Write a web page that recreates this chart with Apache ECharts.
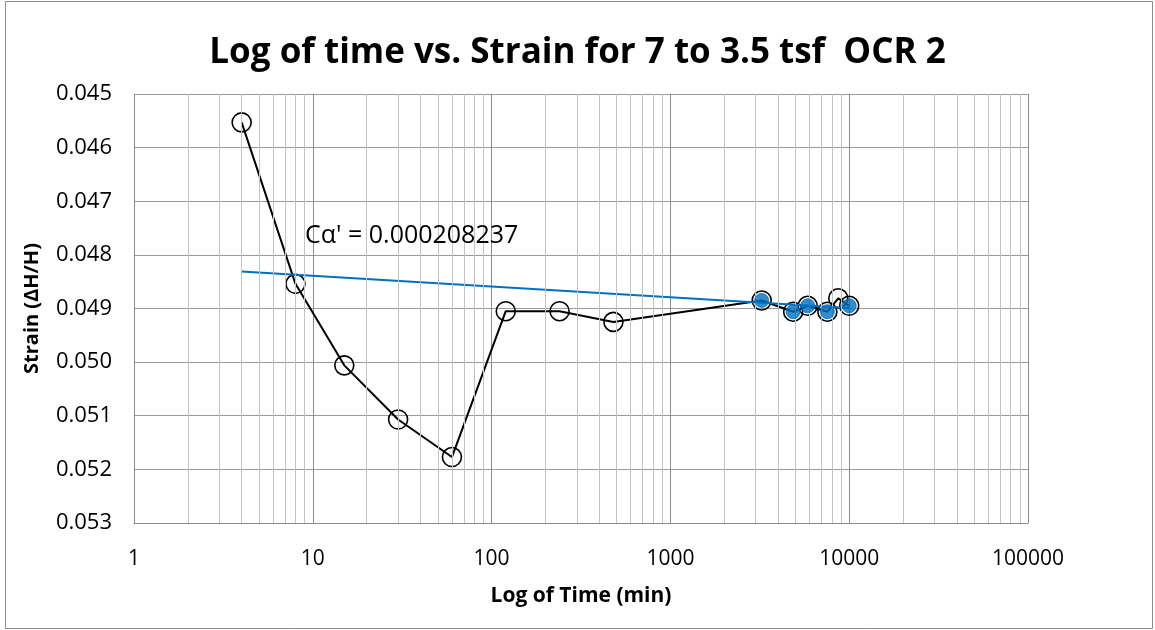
<!DOCTYPE html>
<html>
<head>
<meta charset="utf-8">
<script src="https://cdn.jsdelivr.net/npm/echarts@6/dist/echarts.min.js"></script>
<style>
html,body{margin:0;padding:0;background:#fff;}
#chart{width:1155px;height:630px;}
</style>
</head>
<body>
<div id="chart"></div>
<script>
// ---- data ----
const timeMin = [4, 8, 15, 30, 60, 120, 240, 480, 3240, 4860, 5860, 7550, 8690, 10000];
const strain  = [0.04553, 0.04854, 0.05006, 0.05107, 0.05177, 0.04905, 0.04905, 0.04925,
                 0.04885, 0.04906, 0.04895, 0.04906, 0.04881, 0.04895];
const fitTime   = [3240, 4860, 5860, 7550, 10000];
const fitStrain = [0.04885, 0.04906, 0.04895, 0.04906, 0.04895];
const trendTime   = [4, 10000];
const trendStrain = [0.04831, 0.04899];
const xTickLabels = ['1', '10', '100', '1000', '10000', '100000'];
const yTickLabels = ['0.045','0.046','0.047','0.048','0.049','0.050','0.051','0.052','0.053'];
const titleText = 'Log of time vs. Strain for 7 to 3.5 tsf  OCR 2';
const annotation = "C\u03b1' = 0.000208237";

// minor gridline positions for the log axis (2..9 in each decade)
const minorX = [];
for (let d = 1; d < 100000; d *= 10) {
  for (let k = 2; k <= 9; k++) minorX.push(k * d);
}

const pair = (xs, ys) => xs.map((x, i) => [x, ys[i]]);
const FONT = '"Open Sans", "Noto Sans", sans-serif';

const chart = echarts.init(document.getElementById('chart'), null, {renderer: 'canvas'});
chart.setOption({
  animation: false,
  backgroundColor: '#ffffff',
  title: {
    text: titleText,
    left: 'center',
    top: 31,
    textStyle: {fontFamily: FONT, fontWeight: 'bold', fontSize: 35, color: '#000'}
  },
  grid: {left: 134, right: 127, top: 94, bottom: 107, containLabel: false},
  xAxis: {
    type: 'log', logBase: 10, min: 1, max: 100000,
    name: 'Log of Time (min)', nameLocation: 'middle', nameGap: 63,
    nameTextStyle: {fontFamily: FONT, fontWeight: 'bold', fontSize: 21, color: '#000'},
    axisLine: {show: true, lineStyle: {color: '#8c8c8c', width: 1}},
    axisTick: {show: false},
    axisLabel: {
      margin: 26, fontFamily: FONT, fontSize: 21, color: '#000',
      formatter: v => xTickLabels[Math.round(Math.log10(v))]
    },
    splitLine: {show: true, lineStyle: {color: '#8c8c8c', width: 1}}
  },
  yAxis: {
    type: 'value', inverse: true, min: 0.045, max: 0.053, interval: 0.001,
    name: 'Strain (\u0394H/H)', nameLocation: 'middle', nameGap: 92, nameRotate: 90,
    nameTextStyle: {fontFamily: FONT, fontWeight: 'bold', fontSize: 20, color: '#000'},
    axisLine: {show: true, lineStyle: {color: '#8c8c8c', width: 1}},
    axisTick: {show: false},
    axisLabel: {
      margin: 22, fontFamily: FONT, fontSize: 22, color: '#000',
      formatter: v => yTickLabels[Math.round((v - 0.045) / 0.001)]
    },
    splitLine: {show: true, lineStyle: {color: '#9a9a9a', width: 1}}
  },
  series: [
    {
      name: 'minor', type: 'line', data: [], silent: true,
      markLine: {
        silent: true, symbol: 'none', animation: false,
        label: {show: false},
        lineStyle: {color: '#c4c4c4', width: 1, type: 'solid'},
        emphasis: {disabled: true},
        data: minorX.map(v => ({xAxis: v}))
      }
    },
    {
      name: 'Strain', type: 'line', data: pair(timeMin, strain),
      lineStyle: {color: '#000', width: 2},
      symbol: 'circle', symbolSize: 19,
      itemStyle: {color: 'rgba(0,0,0,0)', borderColor: '#000', borderWidth: 1.6},
      z: 3
    },
    {
      name: 'Trend', type: 'line', data: pair(trendTime, trendStrain),
      lineStyle: {color: '#0070C0', width: 2},
      symbol: 'none', z: 4
    },
    {
      name: 'Fit points', type: 'scatter', data: pair(fitTime, fitStrain),
      symbol: 'circle', symbolSize: 14,
      itemStyle: {color: '#0070C0', borderColor: '#0070C0', borderWidth: 1},
      z: 5
    }
  ],
  graphic: [
    {
      type: 'rect', silent: true, z: 100,
      shape: {x: 5.5, y: 1.5, width: 1147, height: 627},
      style: {fill: 'none', stroke: '#8c8c8c', lineWidth: 1}
    },
    {
      type: 'text', left: 305, top: 223, z: 100,
      style: {text: annotation, font: '25px ' + FONT, fill: '#000'}
    }
  ]
});
</script>
</body>
</html>
